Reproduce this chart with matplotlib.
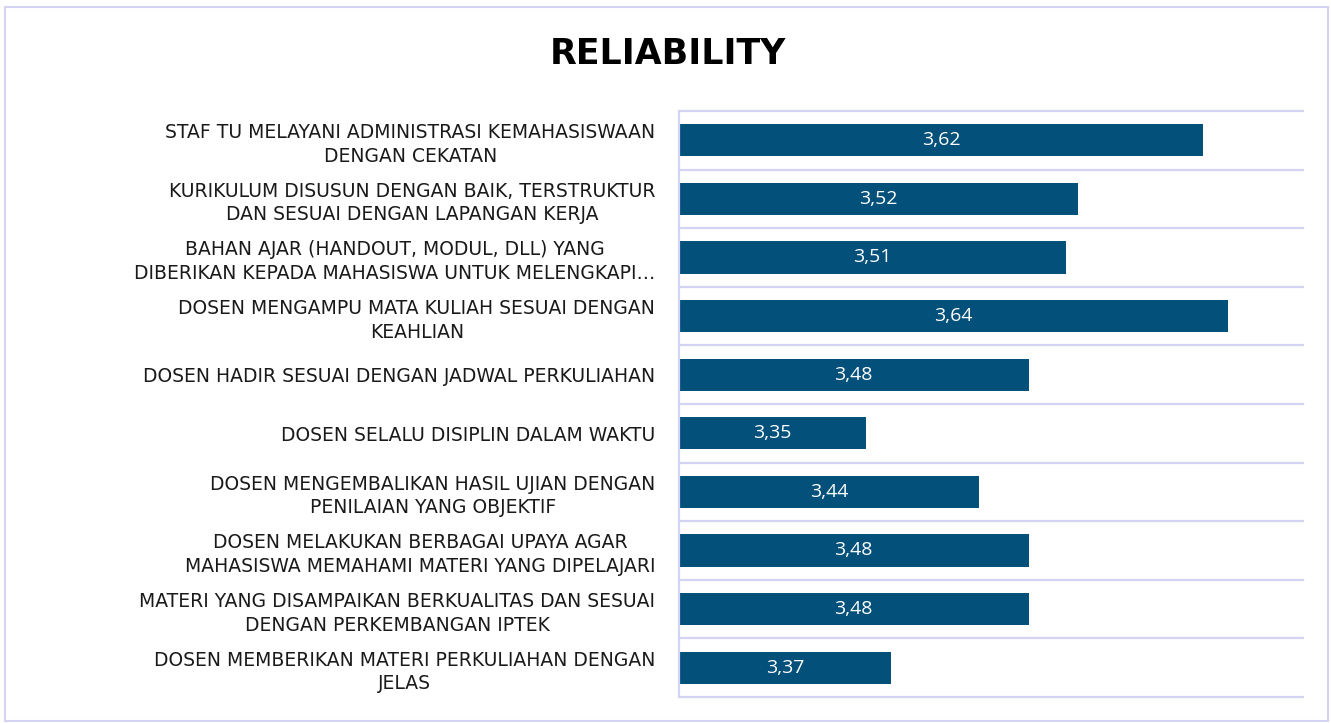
import matplotlib
matplotlib.use('Agg')
from matplotlib import pyplot as plt
from matplotlib.patches import Rectangle

labels = [
    'STAF TU MELAYANI ADMINISTRASI KEMAHASISWAAN\nDENGAN CEKATAN',
    'KURIKULUM DISUSUN DENGAN BAIK, TERSTRUKTUR\nDAN SESUAI DENGAN LAPANGAN KERJA',
    'BAHAN AJAR (HANDOUT, MODUL, DLL) YANG\nDIBERIKAN KEPADA MAHASISWA UNTUK MELENGKAPI\u2026',
    'DOSEN MENGAMPU MATA KULIAH SESUAI DENGAN\nKEAHLIAN',
    'DOSEN HADIR SESUAI DENGAN JADWAL PERKULIAHAN',
    'DOSEN SELALU DISIPLIN DALAM WAKTU',
    'DOSEN MENGEMBALIKAN HASIL UJIAN DENGAN\nPENILAIAN YANG OBJEKTIF',
    'DOSEN MELAKUKAN BERBAGAI UPAYA AGAR\nMAHASISWA MEMAHAMI MATERI YANG DIPELAJARI',
    'MATERI YANG DISAMPAIKAN BERKUALITAS DAN SESUAI\nDENGAN PERKEMBANGAN IPTEK',
    'DOSEN MEMBERIKAN MATERI PERKULIAHAN DENGAN\nJELAS',
]
values = [3.62, 3.52, 3.51, 3.64, 3.48, 3.35, 3.44, 3.48, 3.48, 3.37]

bar_color = '#03507A'
grid_color = '#D4D4F2'

fig = plt.figure(figsize=(13.31, 7.23), dpi=100)
ax = fig.add_axes([0.5101, 0.036, 0.469, 0.8105])

y = list(range(len(values)))
bars = ax.barh(y, values, height=0.55, color=bar_color, left=0)
ax.set_xlim(3.2, 3.7)
ax.set_ylim(len(values) - 0.5, -0.5)

for b, v in zip(bars, values):
    ax.text((3.2 + v) / 2, b.get_y() + b.get_height() / 2,
            ('%.2f' % v).replace('.', ','), color='white',
            ha='center', va='center', fontsize=14, family='Open Sans')

ax.set_yticks(y)
ax.set_yticklabels(labels, fontsize=13.5, family='DejaVu Sans',
                   multialignment='center', color='#1a1a1a', linespacing=1.3)
ax.tick_params(axis='y', length=0, pad=17)
ax.set_xticks([])

# category separators
for i in range(len(values) + 1):
    ax.axhline(i - 0.5, color=grid_color, lw=1.6, zorder=0, clip_on=False)

for s in ['top', 'right', 'bottom']:
    ax.spines[s].set_visible(False)
ax.spines['left'].set_color(grid_color)
ax.spines['left'].set_linewidth(1.6)

fig.text(0.502, 0.925, 'RELIABILITY', ha='center', va='center',
         fontsize=25, fontweight='bold', family='DejaVu Sans')

fig.patches.append(Rectangle((0.004, 0.003), 0.994, 0.987, transform=fig.transFigure,
                             fill=False, edgecolor=grid_color, lw=1.5))

fig.savefig('out.png', dpi=100)
